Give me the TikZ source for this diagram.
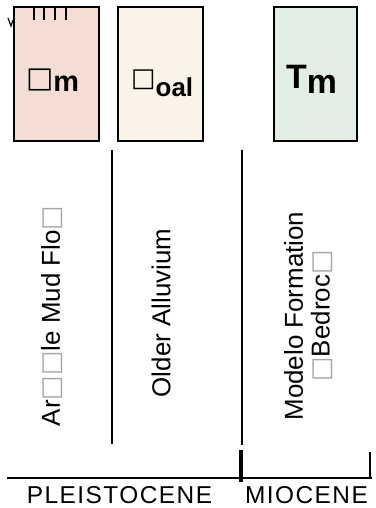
\documentclass[tikz,border=0pt]{standalone}
\usepackage{fontspec}
\setsansfont{Liberation Sans}
\newfontfamily\symfont{DejaVu Sans}
\usepackage{xcolor}
\usepackage{tikz}
\usetikzlibrary{positioning}
\definecolor{mudfill}{HTML}{F3DDD4}
\definecolor{alluvfill}{HTML}{FBF3E8}
\definecolor{modelofill}{HTML}{E2EDE4}
\newcommand{\nogl}{{\symfont □}}
\newcommand{\fnogl}{{\color{black!35}\symfont □}}

\begin{document}
\begin{tikzpicture}[x=1bp, y=-1bp, font=\sffamily,
    unitbox/.style={draw, line width=1.8bp, minimum width=85bp, minimum height=134bp, inner sep=0pt},
    unitsym/.style={anchor=base west, inner sep=0pt},
    unitname/.style={rotate=90, align=center, inner sep=0pt, font=\sffamily\fontsize{26}{27}\selectfont},
    epoch/.style={anchor=base, inner sep=0pt, font=\sffamily\fontsize{24.5}{26}\selectfont\addfontfeatures{LetterSpace=6}},
    contact/.style={line width=2bp}]
    \useasboundingbox (0,0) rectangle (375,508);
    \node[unitbox, fill=mudfill] (qmbox) at (56.5,74) {};
    \node[unitbox, fill=alluvfill] (qoalbox) at (160.5,74) {};
    \node[unitbox, fill=modelofill, minimum width=83bp] (tmbox) at (315.5,74) {};
    \node[unitsym, font=\sffamily\bfseries\fontsize{29}{31}\selectfont] (qmsym) at (26,88) {\nogl\raisebox{-4bp}{m}};
    \node[unitsym, font=\sffamily\bfseries\fontsize{26}{28}\selectfont] (qoalsym) at (131,87) {\nogl\raisebox{-10bp}{oal}};
    \node[unitsym, font=\sffamily\bfseries\fontsize{34}{36}\selectfont] (tmsym) at (286,89) {T\raisebox{-5bp}{m}};
    \foreach \x in {34,44,55,66}
        \draw[contact] (\x,7) -- (\x,20);
    \draw[line width=1.2bp] (8,18) -- (11,26) -- (13,20);
    \node[unitname] (qmname) at (52,316) {Ar\fnogl\fnogl le Mud Flo\fnogl};
    \node[unitname] (qoalname) at (161,313) {Older Alluvium};
    \node[unitname] (tmname) at (308.5,316) {Modelo Formation\\\fnogl Bedroc\fnogl};
    \draw[contact] (112,150) -- (112,444);
    \draw[contact] (242,150) -- (242,445);
    \draw[line width=4bp] (240.5,450) -- (240.5,482);
    \draw[contact] (370,452) -- (370,479);
    \draw[line width=2.6bp] (7,478) -- (372,478);
    \node[epoch] (pleist) at (119.5,503.5) {PLEISTOCENE};
    \node[epoch] (mioc) at (306.5,503.5) {MIOCENE};
\end{tikzpicture}
\end{document}
